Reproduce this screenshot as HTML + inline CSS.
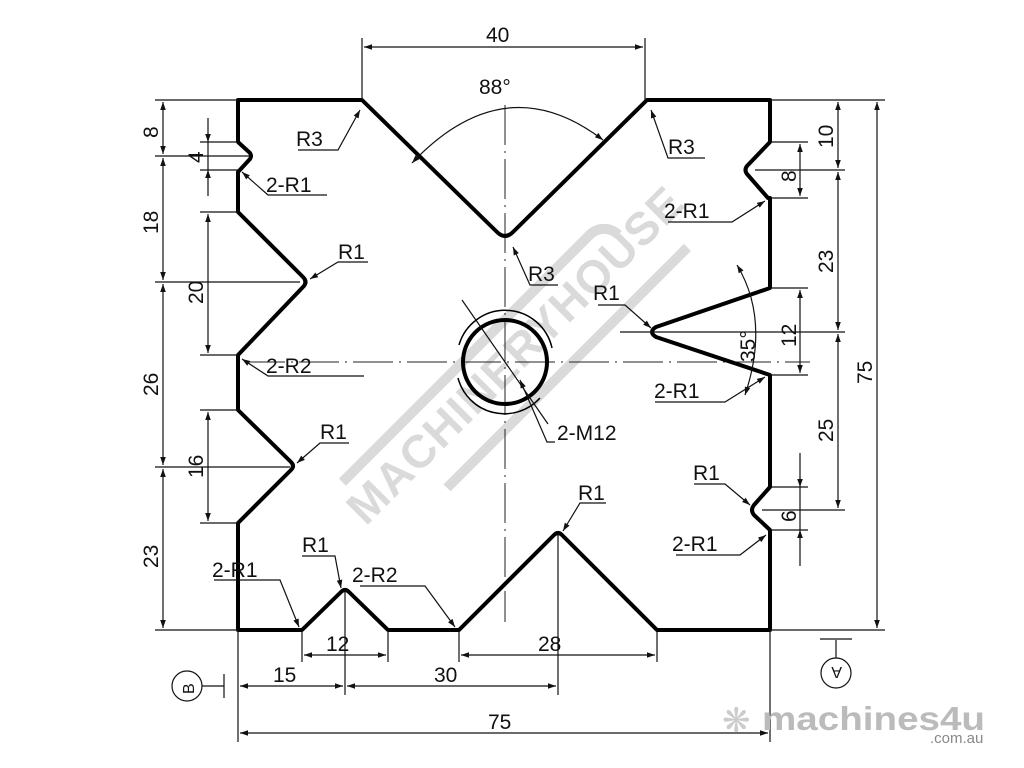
<!DOCTYPE html>
<html><head><meta charset="utf-8"><style>
html,body{margin:0;padding:0;background:#fff;}
svg{display:block;}
text{font-family:"Liberation Sans",sans-serif;fill:#111;}
</style></head><body>
<svg width="1024" height="768" viewBox="0 0 1024 768" xmlns="http://www.w3.org/2000/svg">
<defs>
<marker id="a" viewBox="0 0 10 10" refX="10" refY="5" markerWidth="12" markerHeight="8" markerUnits="userSpaceOnUse" orient="auto-start-reverse"><path d="M0,1.5 L10,5 L0,8.5z" fill="#111"/></marker>
</defs>
<!-- watermark -->
<g transform="translate(505,362) rotate(-45)" opacity="0.3">
<text x="-215" y="18" font-size="46" font-weight="bold" fill="#888" style="fill:#888" letter-spacing="1">MACHINERYHOUSE</text>
<path d="M-200,-30 L150,-30 A20,20 0 0 1 170,-10" stroke="#888" stroke-width="10" fill="none"/>
<path d="M-130,48 L210,48" stroke="#888" stroke-width="10"/>
</g>
<!-- centerlines -->
<g stroke="#222" stroke-width="1" fill="none" stroke-dasharray="40,6,2,6">
<line x1="505" y1="105" x2="505" y2="622"/>
<line x1="245" y1="362" x2="810" y2="362"/>
</g>
<!-- main outline -->
<path d="M238,100 L362,100 L497,232 Q505,240 513,232 L647,100 L770,100 L770,142 L747,166 Q744,170 747,174 L768,198 L770,198 L770,288 L656,327 Q648,332 656,337 L770,375 L770,487 L754,505 Q750,510 754,515 L770,530 L770,630 L657,630 L562,535 Q558,531 554,535 L459,630 L388,630 L349,592 Q345,588 341,592 L302,630 L238,630 L238,523 L291,470 Q295,466 291,462 L238,410 L238,355 L303,287 Q308,282 303,277 L238,212 L238,172 L250,159 Q252,156 250,153 L238,142 Z" fill="none" stroke="#000" stroke-width="4" stroke-linejoin="round"/>
<!-- hole -->
<circle cx="505" cy="362" r="42" fill="none" stroke="#000" stroke-width="4"/>
<path d="M459,345 A48,48 0 0 1 552,348" fill="none" stroke="#000" stroke-width="1.5"/>
<path d="M458,378 A48,48 0 0 0 540,398" fill="none" stroke="#000" stroke-width="1.5"/>
<g stroke="#111" stroke-width="1.2" fill="none">
<line x1="362" y1="38" x2="362" y2="100"/><line x1="645" y1="38" x2="645" y2="100"/>
<line x1="364" y1="47" x2="643" y2="47" marker-start="url(#a)" marker-end="url(#a)"/>
<path d="M412,163 Q505,65 603,140" marker-start="url(#a)" marker-end="url(#a)"/>
<line x1="155" y1="100" x2="238" y2="100"/>
<line x1="155" y1="156" x2="250" y2="156"/>
<line x1="155" y1="282" x2="300" y2="282"/>
<line x1="155" y1="467" x2="290" y2="467"/>
<line x1="155" y1="630" x2="238" y2="630"/>
<line x1="200" y1="142" x2="238" y2="142"/><line x1="200" y1="170" x2="238" y2="170"/>
<line x1="200" y1="212" x2="238" y2="212"/><line x1="200" y1="355" x2="238" y2="355"/>
<line x1="200" y1="410" x2="238" y2="410"/><line x1="200" y1="523" x2="238" y2="523"/>
<line x1="163" y1="102" x2="163" y2="154" marker-start="url(#a)" marker-end="url(#a)"/>
<line x1="163" y1="158" x2="163" y2="280" marker-start="url(#a)" marker-end="url(#a)"/>
<line x1="163" y1="284" x2="163" y2="465" marker-start="url(#a)" marker-end="url(#a)"/>
<line x1="163" y1="469" x2="163" y2="628" marker-start="url(#a)" marker-end="url(#a)"/>
<line x1="208" y1="118" x2="208" y2="142" marker-end="url(#a)"/>
<line x1="208" y1="142" x2="208" y2="170"/>
<line x1="208" y1="196" x2="208" y2="170" marker-end="url(#a)"/>
<line x1="208" y1="214" x2="208" y2="353" marker-start="url(#a)" marker-end="url(#a)"/>
<line x1="208" y1="412" x2="208" y2="521" marker-start="url(#a)" marker-end="url(#a)"/>
<line x1="770" y1="100" x2="885" y2="100"/>
<line x1="770" y1="630" x2="885" y2="630"/>
<line x1="772" y1="142" x2="808" y2="142"/><line x1="772" y1="198" x2="808" y2="198"/>
<line x1="755" y1="170" x2="845" y2="170"/>
<line x1="620" y1="332" x2="845" y2="332"/>
<line x1="772" y1="288" x2="808" y2="288"/><line x1="772" y1="375" x2="808" y2="375"/>
<line x1="772" y1="487" x2="808" y2="487"/><line x1="762" y1="510" x2="845" y2="510"/><line x1="772" y1="530" x2="808" y2="530"/>
<line x1="877" y1="102" x2="877" y2="628" marker-start="url(#a)" marker-end="url(#a)"/>
<line x1="838" y1="102" x2="838" y2="168" marker-start="url(#a)" marker-end="url(#a)"/>
<line x1="838" y1="172" x2="838" y2="330" marker-start="url(#a)" marker-end="url(#a)"/>
<line x1="838" y1="334" x2="838" y2="508" marker-start="url(#a)" marker-end="url(#a)"/>
<line x1="800" y1="144" x2="800" y2="196" marker-start="url(#a)" marker-end="url(#a)"/>
<line x1="800" y1="290" x2="800" y2="373" marker-start="url(#a)" marker-end="url(#a)"/>
<line x1="800" y1="453" x2="800" y2="487" marker-end="url(#a)"/>
<line x1="800" y1="487" x2="800" y2="530"/>
<line x1="800" y1="566" x2="800" y2="530" marker-end="url(#a)"/>
<line x1="238" y1="630" x2="238" y2="742"/><line x1="770" y1="630" x2="770" y2="742"/>
<line x1="302" y1="632" x2="302" y2="662"/><line x1="388" y1="632" x2="388" y2="662"/>
<line x1="459" y1="632" x2="459" y2="662"/><line x1="657" y1="632" x2="657" y2="662"/>
<line x1="345" y1="592" x2="345" y2="695"/><line x1="558" y1="535" x2="558" y2="695"/>
<line x1="304" y1="655" x2="386" y2="655" marker-start="url(#a)" marker-end="url(#a)"/>
<line x1="461" y1="655" x2="655" y2="655" marker-start="url(#a)" marker-end="url(#a)"/>
<line x1="240" y1="686" x2="343" y2="686" marker-start="url(#a)" marker-end="url(#a)"/>
<line x1="347" y1="686" x2="556" y2="686" marker-start="url(#a)" marker-end="url(#a)"/>
<line x1="240" y1="733" x2="768" y2="733" marker-start="url(#a)" marker-end="url(#a)"/>
<path d="M737,265 Q770,320 745,395" marker-start="url(#a)" marker-end="url(#a)"/>
<polyline points="298,150 338,150 360,110" marker-end="url(#a)"/>
<polyline points="327,195 268,195 242,172" marker-end="url(#a)"/>
<polyline points="368,262 338,262 310,279" marker-end="url(#a)"/>
<polyline points="558,285 530,285 513,247" marker-end="url(#a)"/>
<polyline points="705,158 668,158 651,110" marker-end="url(#a)"/>
<polyline points="668,222 732,222 765,201" marker-end="url(#a)"/>
<polyline points="598,305 625,305 651,328" marker-end="url(#a)"/>
<polyline points="655,402 725,402 765,377" marker-end="url(#a)"/>
<polyline points="364,376 268,376 242,359" marker-end="url(#a)"/>
<polyline points="555,442 547,442 520,380" marker-end="url(#a)"/>
<polyline points="349,443 320,443 297,463" marker-end="url(#a)"/>
<polyline points="606,503 580,503 563,531" marker-end="url(#a)"/>
<polyline points="694,484 725,484 750,505" marker-end="url(#a)"/>
<polyline points="676,555 740,555 766,535" marker-end="url(#a)"/>
<polyline points="214,580 280,580 299,627" marker-end="url(#a)"/>
<polyline points="302,556 335,556 341,588" marker-end="url(#a)"/>
<polyline points="360,586 425,586 455,627" marker-end="url(#a)"/>
<line x1="462" y1="300" x2="548" y2="424"/>
<circle cx="187" cy="686" r="15"/><line x1="202" y1="686" x2="224" y2="686"/><line x1="224" y1="674" x2="224" y2="698"/>
<circle cx="836" cy="673" r="15"/><line x1="836" y1="658" x2="836" y2="640"/><line x1="820" y1="639" x2="852" y2="639"/>
</g>
<g font-size="21">
<text x="486" y="42">40</text>
<text x="479" y="94">88°</text>
<text x="296" y="146">R3</text>
<text x="668" y="154">R3</text>
<text x="266" y="192">2-R1</text>
<text x="664" y="218">2-R1</text>
<text x="338" y="259">R1</text>
<text x="528" y="281">R3</text>
<text x="593" y="300">R1</text>
<text x="266" y="373">2-R2</text>
<text x="654" y="398">2-R1</text>
<text x="557" y="440">2-M12</text>
<text x="320" y="439">R1</text>
<text x="578" y="500">R1</text>
<text x="693" y="480">R1</text>
<text x="672" y="551">2-R1</text>
<text x="212" y="577">2-R1</text>
<text x="302" y="552">R1</text>
<text x="352" y="582">2-R2</text>
<text x="326" y="651">12</text>
<text x="538" y="651">28</text>
<text x="273" y="682">15</text>
<text x="434" y="682">30</text>
<text x="488" y="729">75</text>
<g transform="rotate(-90)">
<text x="-138" y="158">8</text>
<text x="-234" y="158">18</text>
<text x="-396" y="158">26</text>
<text x="-568" y="158">23</text>
<text x="-163" y="203">4</text>
<text x="-304" y="203">20</text>
<text x="-478" y="203">16</text>
<text x="-148" y="833">10</text>
<text x="-273" y="833">23</text>
<text x="-442" y="833">25</text>
<text x="-182" y="796">8</text>
<text x="-347" y="796">12</text>
<text x="-522" y="796">6</text>
<text x="-384" y="872">75</text>
<text x="-362" y="755">35°</text>
<text x="-694" y="194" font-size="16">B</text>
</g>
<text x="830" y="679" font-size="16" transform="rotate(180 836 673)">A</text>
</g>
<text x="762" y="730" font-size="33" font-weight="bold" style="fill:#bbb" textLength="223" lengthAdjust="spacingAndGlyphs">machines4u</text>
<text x="930" y="743" font-size="15" style="fill:#888">.com.au</text>
<text x="722" y="732" font-size="34" style="fill:#ccc">❋</text>
</svg>
</body></html>
